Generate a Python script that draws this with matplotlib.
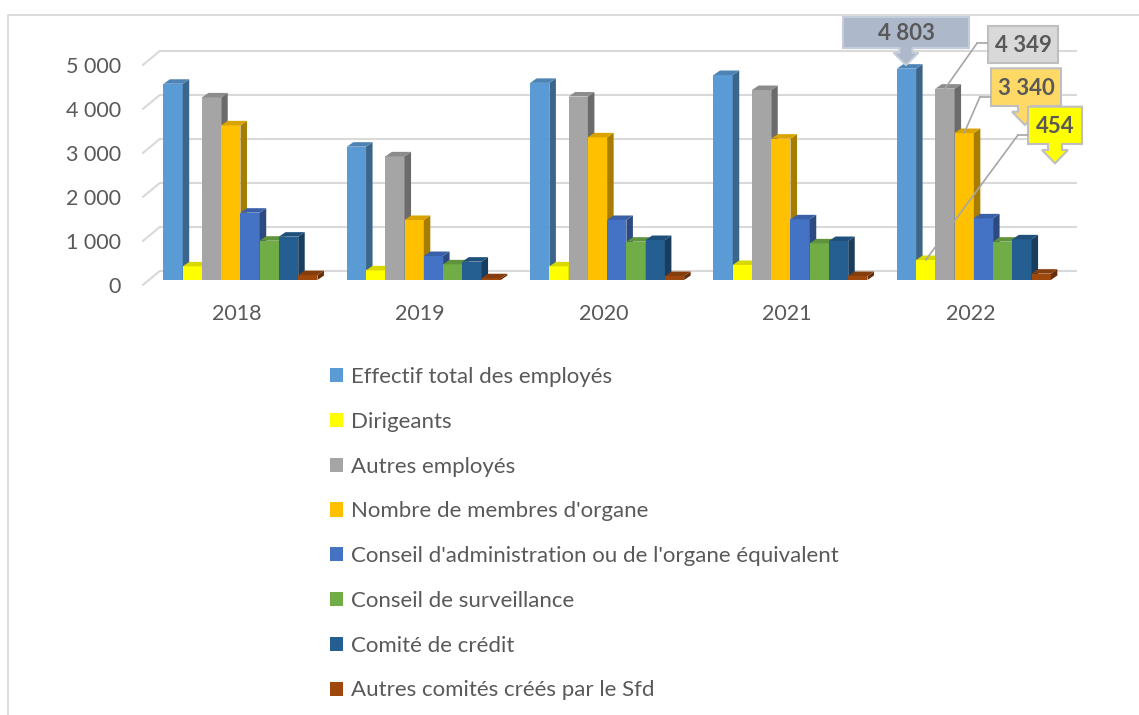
import matplotlib
matplotlib.use("Agg")
import matplotlib.pyplot as plt
import numpy as np
from matplotlib.colors import to_rgb
from matplotlib.lines import Line2D
from matplotlib.patches import Patch, Polygon
from matplotlib.transforms import ScaledTranslation

plt.rcParams.update({"font.family": ["Lato", "DejaVu Sans"], "font.size": 15})
TXT = "#595959"
GRID = "#D9D9D9"

# ---------- données ----------
years = ["2018", "2019", "2020", "2021", "2022"]
names = ["Effectif total des employés", "Dirigeants", "Autres employés",
         "Nombre de membres d'organe",
         "Conseil d'administration ou de l'organe équivalent",
         "Conseil de surveillance", "Comité de crédit",
         "Autres comités créés par le Sfd"]
effectif = [4460, 3030, 4480, 4659, 4803]
dirigeants = [310, 220, 310, 341, 454]
autres_employes = [4150, 2810, 4170, 4318, 4349]
membres_organe = [3515, 1364, 3242, 3212, 3340]
conseil_admin = [1530, 545, 1364, 1379, 1401]
surveillance = [893, 356, 871, 833, 871]
credit = [985, 417, 909, 886, 924]
autres_comites = [110, 40, 90, 90, 144]
series = [effectif, dirigeants, autres_employes, membres_organe,
          conseil_admin, surveillance, credit, autres_comites]
colors = ["#5B9BD5", "#FFFF00", "#A5A5A5", "#FFC000",
          "#4472C4", "#70AD47", "#255E91", "#9E480E"]
yticks = [0, 1000, 2000, 3000, 4000, 5000]

W, H = 1139, 715


def px(x, y):
    # coordonnées image (y vers le bas) -> fraction de figure
    return x / W, 1 - y / H


def shade(c, f):
    return tuple(v * f for v in to_rgb(c))


def fmt(v):
    return f"{v:,}".replace(",", " ")


fig = plt.figure(figsize=(W / 100, H / 100), dpi=100)
fig.patch.set_facecolor("white")
AX_W, AX_H = 916.7, 264.0
ax = fig.add_axes([148.8 / W, 435 / H, AX_W / W, AX_H / H])
ax.set_xlim(-0.5, 4.5)
ax.set_ylim(0, 6000)
for s in ax.spines.values():
    s.set_visible(False)

# ---------- mur du fond : grille + arêtes gauches ----------
back = ax.transData + ScaledTranslation(0.11, 0.09, fig.dpi_scale_trans)
ax.hlines(yticks, -0.5, 4.5, transform=back, color=GRID, lw=1.5, zorder=1,
          clip_on=False)
for t in yticks:
    ax.annotate("", xy=(-0.5, t), xycoords=back, xytext=(-17, -14),
                textcoords="offset pixels", zorder=1,
                arrowprops=dict(arrowstyle="-", color=GRID, lw=1.5,
                                shrinkA=0, shrinkB=0))

# ---------- colonnes pseudo-3D ----------
x = np.arange(len(years))
bw = 0.105
ddx = 6.5 / (AX_W / 5)
ddy = 4.5 / (AX_H / 6000)
for i, (vals, col) in enumerate(zip(series, colors)):
    lefts = x - 4 * bw + i * bw
    z = 3 + i
    ax.bar(lefts, vals, width=bw, align="edge", color=col, lw=0, zorder=z)
    for l, v in zip(lefts, vals):
        r = l + bw
        ax.add_patch(Polygon([(r, 0), (r, v), (r + ddx, v + ddy), (r + ddx, ddy)],
                             closed=True, fc=shade(col, 0.65), lw=0, zorder=z))
        ax.add_patch(Polygon([(l, v), (r, v), (r + ddx, v + ddy), (l + ddx, v + ddy)],
                             closed=True, fc=shade(col, 0.85), lw=0, zorder=z))

# ---------- axes ----------
ax.set_yticks(yticks)
ax.set_yticklabels([fmt(t) for t in yticks])
ax.tick_params(axis="y", length=0, pad=20, labelcolor=TXT, labelsize=15.5)
for lab in ax.get_yticklabels():
    lab.set_transform(lab.get_transform() + ScaledTranslation(0, -0.05, fig.dpi_scale_trans))
ax.set_xticks(x)
ax.set_xticklabels(years)
ax.tick_params(axis="x", length=0, pad=17, labelcolor=TXT, labelsize=15.5)
for lab in ax.get_xticklabels():
    lab.set_transform(lab.get_transform() + ScaledTranslation(-0.035, 0, fig.dpi_scale_trans))

# ---------- étiquettes de données 2022 ----------
last = len(years) - 1


def bar_x(k):
    return x[last] - 4 * bw + k * bw + bw / 2


def callout(k, box, fc, ec, z, arrow=None, elbow=None):
    x0, y0, x1, y1 = box
    pts = [(x0, y0), (x1, y0), (x1, y1)]
    if arrow:
        cx, nh, hh, ny, ty = arrow
        pts += [(cx + nh, y1), (cx + nh, ny), (cx + hh, ny), (cx, ty),
                (cx - hh, ny), (cx - nh, ny), (cx - nh, y1)]
    pts += [(x0, y1)]
    fig.add_artist(Polygon([px(*p) for p in pts], closed=True,
                           transform=fig.transFigure, fc=fc, ec=ec, lw=1.5, zorder=z))
    fig.text(*px((x0 + x1) / 2, (y0 + y1) / 2 + 1), fmt(series[k][last]),
             ha="center", va="center", fontweight="bold", color=TXT,
             fontsize=16, zorder=z + 1)
    if elbow:
        ex, ey = elbow
        fig.add_artist(Line2D(*zip(px(x0 - 1, ey), px(ex, ey)),
                              transform=fig.transFigure, color="#A6A6A6", lw=1.2, zorder=z))
        ax.annotate("", xy=(bar_x(k), series[k][last]), xycoords="data",
                    xytext=(ex, H - ey), textcoords="figure pixels", zorder=20,
                    annotation_clip=False,
                    arrowprops=dict(arrowstyle="-", color="#A6A6A6", lw=1.2,
                                    shrinkA=0, shrinkB=0))


callout(0, (843, 17, 969, 48), "#ADB9CA", "#C4CDDA", 30,
        arrow=(906, 6.5, 12.5, 52.7, 65))
callout(2, (988, 26, 1058, 63), "#D9D9D9", "#BFBFBF", 32, elbow=(977, 43.3))
callout(3, (991, 68.3, 1061, 106), "#FFD966", "#BFBFBF", 34,
        arrow=(1025, 7, 13, 111.7, 125), elbow=(980, 96.7))
callout(1, (1028, 106.7, 1082, 144), "#FFFF00", "#BFBFBF", 36,
        arrow=(1055, 7, 13, 150, 163.3), elbow=(1018, 135))

# ---------- cadre ----------
fig.add_artist(Line2D([8 / W, 8 / W, 1.01], [-0.01, 1 - 15 / H, 1 - 15 / H],
                      transform=fig.transFigure, color=GRID, lw=1.3))

# ---------- légende ----------
handles = [Patch(fc=c, ec="none") for c in colors]
fig.legend(handles, names, loc="upper left", bbox_to_anchor=px(330, 367),
           frameon=False, ncol=1, labelspacing=1.115, handlelength=0.6,
           handleheight=0.6, handletextpad=0.33, borderpad=0, borderaxespad=0,
           labelcolor=TXT, fontsize=16)

fig.savefig("out.png", dpi=100, facecolor="white")
